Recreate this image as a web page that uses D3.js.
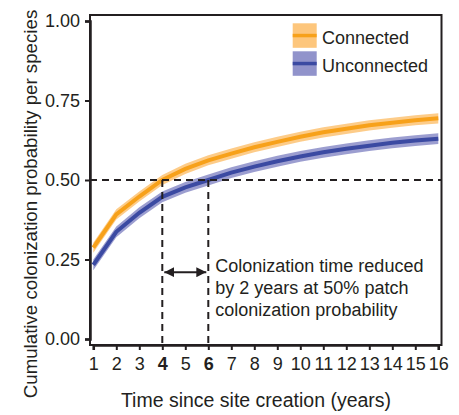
<!DOCTYPE html>
<html>
<head>
<meta charset="utf-8">
<script src="https://cdn.jsdelivr.net/npm/d3@7"></script>
<style>
  html, body { margin: 0; padding: 0; background: #fff; }
  svg { display: block; font-family: "Liberation Sans", Arial, Helvetica, sans-serif; }
</style>
</head>
<body>
<svg id="chart" width="459" height="415"></svg>
<script>
// Years since site creation
const years = [1, 2, 3, 4, 5, 6, 7, 8, 9, 10, 11, 12, 13, 14, 15, 16];

// Cumulative colonization probability per species (mean and 95% band)
const connected      = [0.287, 0.392, 0.448, 0.500, 0.535, 0.562, 0.583, 0.603, 0.620, 0.636, 0.650, 0.661, 0.672, 0.680, 0.688, 0.694];
const connectedLow   = [0.271, 0.376, 0.432, 0.484, 0.519, 0.546, 0.567, 0.587, 0.604, 0.620, 0.634, 0.645, 0.656, 0.664, 0.672, 0.678];
const connectedHigh  = [0.303, 0.408, 0.464, 0.516, 0.551, 0.578, 0.599, 0.619, 0.636, 0.652, 0.666, 0.677, 0.688, 0.696, 0.704, 0.710];

const unconnected     = [0.233, 0.337, 0.397, 0.447, 0.477, 0.500, 0.523, 0.542, 0.559, 0.574, 0.587, 0.598, 0.608, 0.617, 0.624, 0.630];
const unconnectedLow  = [0.216, 0.320, 0.380, 0.430, 0.460, 0.483, 0.506, 0.525, 0.542, 0.557, 0.570, 0.581, 0.591, 0.600, 0.607, 0.613];
const unconnectedHigh = [0.250, 0.354, 0.414, 0.464, 0.494, 0.517, 0.540, 0.559, 0.576, 0.591, 0.604, 0.615, 0.625, 0.634, 0.641, 0.647];

const yTicks = [0, 0.25, 0.5, 0.75, 1];
const xTicks = years;
const boldYears = [4, 6];

// Reference level and the two crossing years it marks
const threshold = 0.5;
const crossYears = [4, 6];
const arrowLevel = 0.21;

const seriesNames = ["Connected", "Unconnected"];
const annotationLines = [
  "Colonization time reduced",
  "by 2 years at 50% patch",
  "colonization probability"
];

const ink = "#231f20";
const colors = {
  Connected:   { line: "#f7a11a", band: "#fdc67c" },
  Unconnected: { line: "#3b4aa2", band: "#9193cb" }
};

const svg = d3.select("#chart");

const frame = { left: 90, right: 441.5, top: 15, bottom: 345 };

const x = d3.scaleLinear().domain([1, 16]).range([93.3, 438.3]);
const y = d3.scaleLinear().domain([0, 1]).range([339, 21]);

const series = [
  { name: "Connected", mean: connected, low: connectedLow, high: connectedHigh },
  { name: "Unconnected", mean: unconnected, low: unconnectedLow, high: unconnectedHigh }
];

// Confidence bands
const area = d3.area()
  .x((d, i) => x(years[i]))
  .y0(d => y(d[0]))
  .y1(d => y(d[1]));

const line = d3.line()
  .x((d, i) => x(years[i]))
  .y(d => y(d));

series.forEach(s => {
  svg.append("path")
    .datum(s.low.map((v, i) => [v, s.high[i]]))
    .attr("d", area)
    .attr("fill", colors[s.name].band)
    .attr("fill-opacity", 0.9);
});

series.forEach(s => {
  svg.append("path")
    .datum(s.mean)
    .attr("d", line)
    .attr("fill", "none")
    .attr("stroke", colors[s.name].line)
    .attr("stroke-width", 4);
});

// Dashed guide lines at the 50% level
const dash = "7,5";
svg.append("line")
  .attr("x1", frame.left).attr("x2", frame.right)
  .attr("y1", y(threshold)).attr("y2", y(threshold))
  .attr("stroke", ink).attr("stroke-width", 2).attr("stroke-dasharray", dash);

crossYears.forEach(yr => {
  svg.append("line")
    .attr("x1", x(yr)).attr("x2", x(yr))
    .attr("y1", y(threshold)).attr("y2", frame.bottom)
    .attr("stroke", ink).attr("stroke-width", 2).attr("stroke-dasharray", dash);
});

// Double-headed arrow between crossing years
const defs = svg.append("defs");
["start", "end"].forEach(k => {
  defs.append("marker")
    .attr("id", "arrow-" + k)
    .attr("viewBox", "0 0 10 10")
    .attr("refX", k === "end" ? 10 : 0)
    .attr("refY", 5)
    .attr("markerWidth", 10)
    .attr("markerHeight", 10)
    .attr("markerUnits", "userSpaceOnUse")
    .attr("orient", "auto")
    .append("path")
    .attr("d", k === "end" ? "M0,0 L10,5 L0,10 Z" : "M10,0 L0,5 L10,10 Z")
    .attr("fill", ink);
});
svg.append("line")
  .attr("x1", x(crossYears[0]) + 2).attr("x2", x(crossYears[1]) - 2)
  .attr("y1", y(arrowLevel)).attr("y2", y(arrowLevel))
  .attr("stroke", ink).attr("stroke-width", 2)
  .attr("marker-start", "url(#arrow-start)")
  .attr("marker-end", "url(#arrow-end)");

// Annotation
const note = svg.append("text")
  .attr("x", x(crossYears[1]) + 7)
  .attr("y", 272)
  .attr("fill", ink)
  .attr("font-size", 18);
annotationLines.forEach((t, i) => {
  note.append("tspan")
    .attr("x", x(crossYears[1]) + 7)
    .attr("dy", i === 0 ? 0 : 22)
    .text(t);
});

// Plot frame
svg.append("rect")
  .attr("x", frame.left).attr("y", frame.top)
  .attr("width", frame.right - frame.left)
  .attr("height", frame.bottom - frame.top)
  .attr("fill", "none")
  .attr("stroke", ink)
  .attr("stroke-width", 2);

// Axes
const yAxis = svg.append("g")
  .attr("transform", `translate(${frame.left},0)`)
  .call(d3.axisLeft(y).tickValues(yTicks).tickFormat(d3.format(".2f")).tickSize(5).tickPadding(5));

const xAxis = svg.append("g")
  .attr("transform", `translate(0,${frame.bottom})`)
  .call(d3.axisBottom(x).tickValues(xTicks).tickFormat(d3.format("d")).tickSize(5).tickPadding(7));

[yAxis, xAxis].forEach(g => {
  g.select(".domain").attr("stroke", ink).attr("stroke-width", 2.5);
  g.selectAll(".tick line").attr("stroke", ink).attr("stroke-width", 2);
  g.selectAll(".tick text")
    .attr("fill", ink)
    .attr("font-size", 18)
    .attr("font-family", "'Liberation Sans', Arial, Helvetica, sans-serif");
});
xAxis.selectAll(".tick text")
  .attr("font-weight", d => boldYears.includes(d) ? "bold" : "normal");

// Axis titles
svg.append("text")
  .attr("x", 256)
  .attr("y", 407)
  .attr("text-anchor", "middle")
  .attr("fill", ink)
  .attr("font-size", 19.5)
  .text("Time since site creation (years)");

svg.append("text")
  .attr("transform", "translate(37,204) rotate(-90)")
  .attr("text-anchor", "middle")
  .attr("fill", ink)
  .attr("font-size", 18.7)
  .text("Cumulative colonization probability per species");

// Legend
const legend = svg.append("g");
seriesNames.forEach((name, i) => {
  const top = 23.3 + i * 28;
  legend.append("rect")
    .attr("x", 292.7).attr("y", top)
    .attr("width", 24).attr("height", 24.5)
    .attr("fill", colors[name].band);
  legend.append("line")
    .attr("x1", 292.7).attr("x2", 316.7)
    .attr("y1", top + 12.25).attr("y2", top + 12.25)
    .attr("stroke", colors[name].line)
    .attr("stroke-width", 3.5);
  legend.append("text")
    .attr("x", 322).attr("y", top + 20.5)
    .attr("fill", ink)
    .attr("font-size", 18)
    .text(name);
});
</script>
</body>
</html>
